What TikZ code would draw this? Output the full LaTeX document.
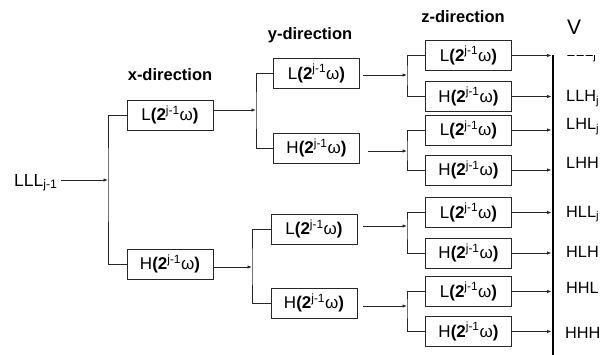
\documentclass[tikz,border=0pt]{standalone}
\usepackage{fontspec}
\setmainfont{Liberation Sans}
\usetikzlibrary{arrows.meta}
\newcommand\filtxt[1]{#1\textbf{(2}\textsuperscript{j-1}ω\textbf{)}}
\begin{document}
\begin{tikzpicture}[x=1pt,y=-1pt,
  filt/.style={draw=black!85, line width=0.9pt, minimum width=86pt, minimum height=30pt, inner sep=0pt, font=\fontsize{17}{17}\selectfont},
  ttl/.style={font=\fontsize{16.5}{16.5}\selectfont\bfseries, inner sep=0pt},
  lab/.style={font=\fontsize{16.3}{16.3}\selectfont, anchor=base west, inner sep=0pt},
  wire/.style={line width=0.9pt, draw=black!85},
  arr/.style={wire, -{Latex[length=4.5pt,width=3.5pt]}},
]
\useasboundingbox (0,0) rectangle (601,355);
% titles
\node[ttl] (tx) at (170,75) {x-direction};
\node[ttl] (ty) at (310,35) {y-direction};
\node[ttl] (tz) at (463,17) {z-direction};
% x-direction
\node[lab, font=\fontsize{17.5}{17.5}\selectfont] (in) at (14,186) {LLL\textsubscript{j-1}};
\node[filt] (xL) at (170,115) {\filtxt{L}};
\node[filt] (xH) at (170,264) {\filtxt{H}};
\coordinate (fx) at (108,180);
\draw[arr, shorten <=3pt] (in.east |- fx) -- (fx);
\draw[wire] (xL.west) -| (fx) |- (xH.west);
% y-direction
\node[filt] (yL1) at (316.5,73.5) {\filtxt{L}};
\node[filt] (yH1) at (316.5,148) {\filtxt{H}};
\node[filt] (yL2) at (314,229) {\filtxt{L}};
\node[filt] (yH2) at (314,303) {\filtxt{H}};
\coordinate (fy1) at (256,110);
\coordinate (fy2) at (252,267);
\draw[arr] (xL.east |- fy1) -- (fy1);
\draw[wire] (yL1.west) -| (fy1) |- (yH1.west);
\draw[arr] (xH.east |- fy2) -- (fy2);
\draw[wire] (yL2.west) -| (fy2) |- (yH2.west);
% z-direction
\node[filt] (z1) at (468.5,55.5) {\filtxt{L}};
\node[filt] (z2) at (468.5,96.5) {\filtxt{H}};
\node[filt] (z3) at (468.5,130) {\filtxt{L}};
\node[filt] (z4) at (468.5,170) {\filtxt{H}};
\node[filt] (z5) at (468.5,212.5) {\filtxt{L}};
\node[filt] (z6) at (468.5,253) {\filtxt{H}};
\node[filt] (z7) at (468.5,291.5) {\filtxt{L}};
\node[filt] (z8) at (468.5,331.5) {\filtxt{H}};
\coordinate (fz1) at (407,75);
\coordinate (fz2) at (407,151);
\coordinate (fz3) at (407,226);
\coordinate (fz4) at (407,306);
\draw[arr, shorten <=3pt] (yL1.east |- fz1) -- (fz1);
\draw[arr, shorten <=8pt] (yH1.east |- fz2) -- (fz2);
\draw[arr, shorten <=6pt] (yL2.east |- fz3) -- (fz3);
\draw[arr, shorten <=6pt] (yH2.east |- fz4) -- (fz4);
\draw[wire] (z1.west) -| (fz1) |- (z2.west);
\draw[wire] (z3.west) -| (fz2) |- (z4.west);
\draw[wire] (z5.west) -| (fz3) |- (z6.west);
\draw[wire] (z7.west) -| (fz4) |- (z8.west);
% output bar
\coordinate (bt) at (553,55);
\coordinate (bb) at (553,356);
\draw[line width=1.6pt] (bt) -- (bb);
\foreach \i in {1,...,8} {
  \draw[arr, shorten >=1.5pt] (z\i.east) -- (z\i.east -| bt);
}
% outputs
\node[lab] (o1) at (566,57) {LLL\textsubscript{j}};
\node[lab] (o2) at (566,102) {LLH\textsubscript{j}};
\node[lab] (o3) at (566,130) {LHL\textsubscript{j}};
\node[lab] (o4) at (566,169) {LHH};
\node[lab] (o5) at (566,217) {HLL\textsubscript{j}};
\node[lab] (o6) at (566,257) {HLH};
\node[lab] (o7) at (566,293) {HHL};
\node[lab] (o8) at (565,338) {HHH};
% covering V
\node[fill=white, inner sep=0pt, minimum width=43pt, minimum height=55pt, anchor=south west] (vcover) at (558,55.2) {};
\node[font=\fontsize{21}{21}\selectfont, inner sep=0pt, anchor=base west] (V) at (567,35) {V};
\end{tikzpicture}
\end{document}
